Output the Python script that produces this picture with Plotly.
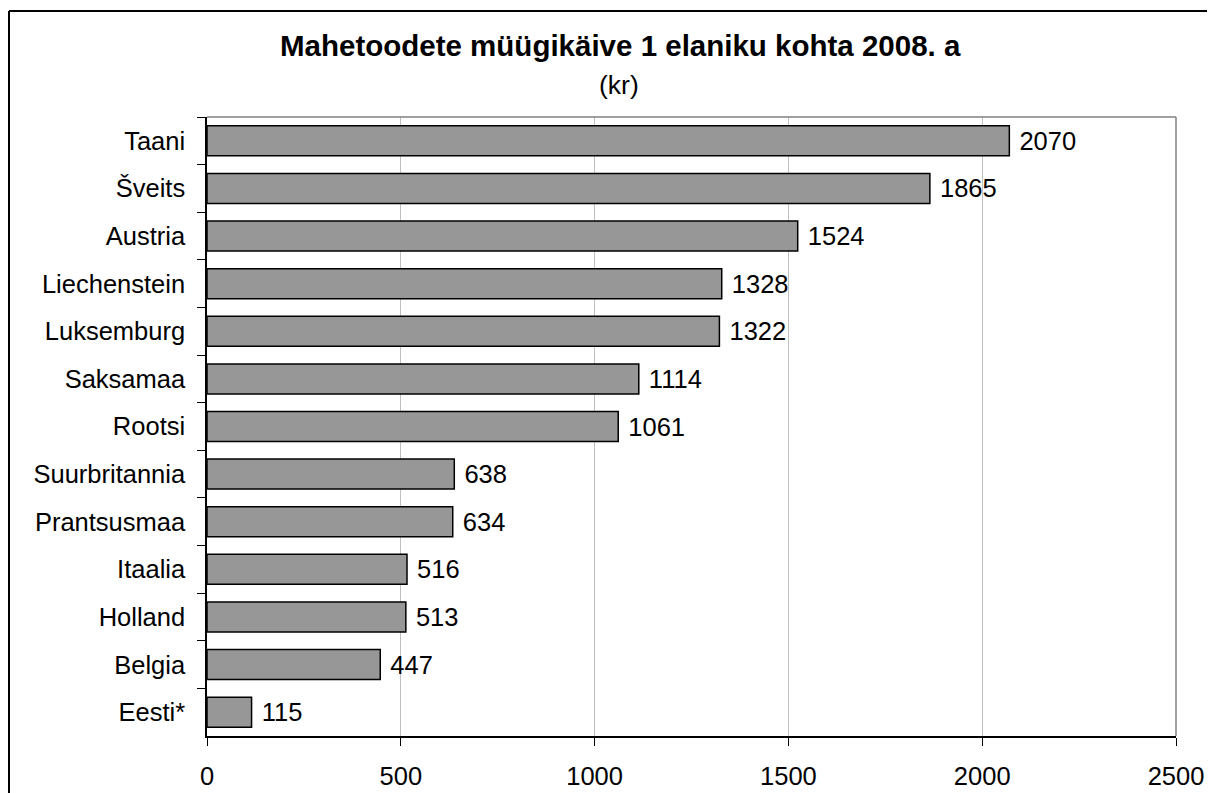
import plotly.graph_objects as go

countries = ["Taani", "Šveits", "Austria", "Liechenstein", "Luksemburg", "Saksamaa",
             "Rootsi", "Suurbritannia", "Prantsusmaa", "Itaalia", "Holland", "Belgia", "Eesti*"]
values = [2070, 1865, 1524, 1328, 1322, 1114, 1061, 638, 634, 516, 513, 447, 115]
x_ticks = [0, 500, 1000, 1500, 2000, 2500]
title_text = "Mahetoodete müügikäive 1 elaniku kohta 2008. a"
subtitle_text = "(kr)"

FONT = "Liberation Sans, Arial, sans-serif"
W, H = 1207, 785
OFF = 8  # page body margin
L, R, T, B = 207 - OFF, 1176 - OFF, 117 - OFF, 736 - OFF
pw, ph = R - L, B - T

def px(x):
    return (x - OFF - L) / pw

def py(y):
    return (B - (y - OFF)) / ph

fig = go.Figure()
fig.add_trace(go.Bar(
    x=values, y=countries, orientation="h",
    marker=dict(color="#979797", line=dict(color="black", width=1.5)),
    width=0.63,
    text=[str(v) for v in values], texttemplate=" %{text}",
    textposition="outside", cliponaxis=False,
    textfont=dict(family=FONT, size=25.5, color="black"),
    hoverinfo="skip",
))

fig.update_layout(
    width=W, height=H, autosize=False,
    margin=dict(l=L, r=W - R, t=T, b=H - B, pad=0, autoexpand=False),
    paper_bgcolor="white", plot_bgcolor="white",
    font=dict(family=FONT, size=25.5, color="black"),
    showlegend=False,
    bargap=0.37,
)
fig.update_xaxes(
    range=[0, 2500], tickvals=x_ticks, ticktext=[str(t) for t in x_ticks],
    showgrid=True, gridcolor="#c0c0c0", gridwidth=1,
    showline=True, linecolor="black", linewidth=1.5,
    ticks="outside", ticklen=8, tickcolor="black", tickwidth=1,
    tickfont=dict(family=FONT, size=25.5, color="black"),
    ticklabelstandoff=9, zeroline=False, automargin=False,
)
fig.update_yaxes(
    categoryorder="array", categoryarray=countries, autorange="reversed",
    showline=True, linecolor="black", linewidth=1.5,
    ticks="outside", ticklen=8, tickcolor="black", tickwidth=1,
    tickson="boundaries", showgrid=False,
    tickfont=dict(family=FONT, size=25.5, color="black"),
    ticklabelstandoff=15, automargin=False,
)

# plot area border (top and right, gray)
fig.add_shape(type="line", xref="paper", yref="paper", x0=0, x1=1, y0=1, y1=1,
              line=dict(color="#808080", width=1.5), layer="above")
fig.add_shape(type="line", xref="paper", yref="paper", x0=1, x1=1, y0=0, y1=1,
              line=dict(color="#808080", width=1.5), layer="above")

# outer chart frame (left and top edges; right and bottom lie outside the view)
fig.add_shape(type="line", xref="paper", yref="paper",
              x0=px(9), x1=px(1260), y0=py(11), y1=py(11),
              line=dict(color="black", width=2), layer="above")
fig.add_shape(type="line", xref="paper", yref="paper",
              x0=px(9), x1=px(9), y0=py(11), y1=py(840),
              line=dict(color="black", width=2), layer="above")

fig.add_annotation(text="<b>" + title_text + "</b>", xref="paper", yref="paper",
                   x=px(620), y=py(46), xanchor="center", yanchor="middle",
                   showarrow=False, font=dict(family=FONT, size=29.5, color="black"))
fig.add_annotation(text=subtitle_text, xref="paper", yref="paper",
                   x=px(619), y=py(85), xanchor="center", yanchor="middle",
                   showarrow=False, font=dict(family=FONT, size=26.5, color="black"))

fig.write_html("out.html")
